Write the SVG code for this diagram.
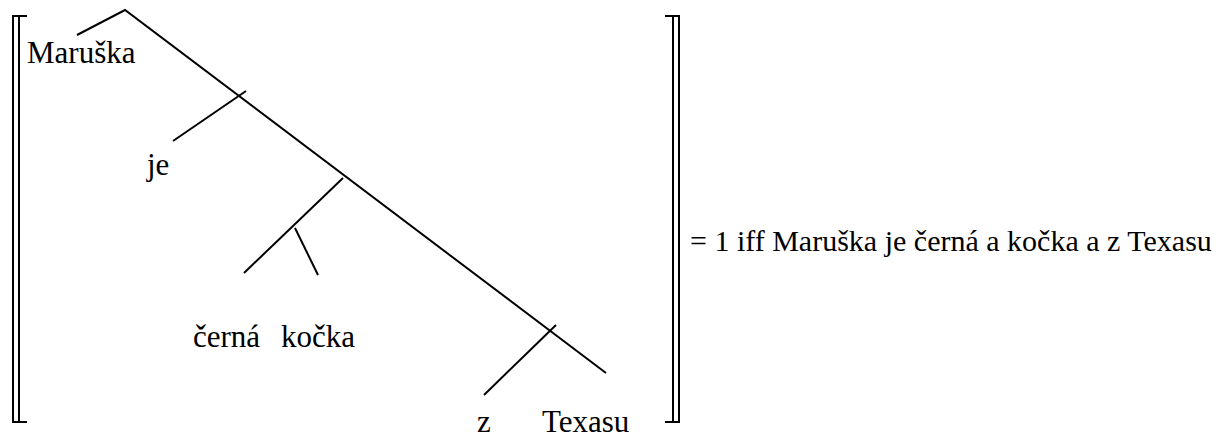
<svg xmlns="http://www.w3.org/2000/svg" width="1223" height="438" viewBox="0 0 1223 438">
<style>
.ln{stroke:#000;stroke-width:2;fill:none}
.t{font-family:"Liberation Serif","Times New Roman",Times,serif;font-size:31px;fill:#000}
.r{font-size:30px}
</style>
<rect width="1223" height="438" fill="#fff"/>
<g id="brackets">
<path class="ln" d="M13,16 V422 M19,16 V422 M12,16 H27 M12,422 H27"/>
<path class="ln" d="M673,16 V422 M679,16 V422 M665,16 H680 M665,422 H680"/>
</g>
<g id="connectors">
<path class="ln" d="M77,35 L125,10 L606,373"/>
<path class="ln" d="M173,141 L246,91"/>
<path class="ln" d="M244,273 L343,178"/>
<path class="ln" d="M295,228 L318,275"/>
<path class="ln" d="M484,395 L556,325"/>
</g>
<g id="n-maruska"><text class="t" x="27" y="63">Maruška</text></g>
<g id="n-je"><text class="t" x="147" y="175">je</text></g>
<g id="n-cerna"><text class="t" x="193" y="347">černá</text></g>
<g id="n-kocka"><text class="t" x="281" y="347">kočka</text></g>
<g id="n-z"><text class="t" x="477" y="432">z</text></g>
<g id="n-texasu"><text class="t" x="542" y="432">Texasu</text></g>
<g id="n-result"><text class="t r" x="690" y="251">= 1 iff Maruška je černá a kočka a z Texasu</text></g>
</svg>
